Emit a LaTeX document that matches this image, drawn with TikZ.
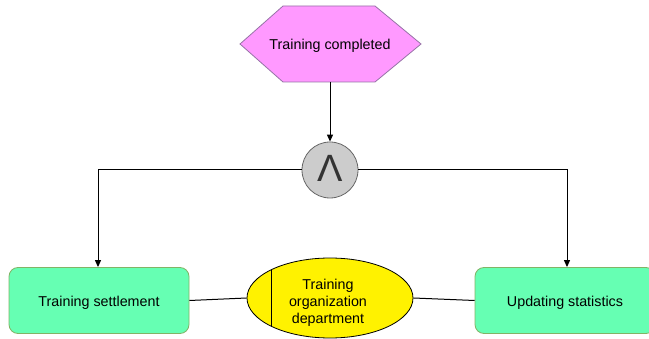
\documentclass[tikz,border=0pt]{standalone}
\usepackage{fontspec}
\setmainfont{Liberation Sans}
\usetikzlibrary{shapes.geometric,arrows.meta}
\definecolor{hexfill}{HTML}{FF99FF}
\definecolor{hexline}{HTML}{9673A6}
\definecolor{boxfill}{HTML}{66FFB3}
\definecolor{boxline}{HTML}{82B366}
\definecolor{gatefill}{HTML}{CCCCCC}
\definecolor{gateline}{HTML}{666666}
\definecolor{symcol}{HTML}{333333}
\begin{document}
\begin{tikzpicture}[x=1pt,y=-1pt,
  font=\fontsize{14.3}{17}\selectfont,
  conn/.style={line width=1pt,black},
  arr/.style={conn,-{Triangle[length=7pt,width=6pt]}},
  procbox/.style={draw=boxline,fill=boxfill,rounded corners=9pt,minimum width=180pt,minimum height=66pt,inner sep=0pt,line width=0.8pt}]
\useasboundingbox (0,0) rectangle (649,339);
\begin{scope}
\clip (0,0) rectangle (649,339);
% hexagon event
\path[draw=hexline,fill=hexfill,line width=0.8pt] (283,6) -- (375,6) -- (421,44) -- (375,82) -- (283,82) -- (240,44) -- cycle;
\node (ev) at (330,46) {Training completed};
\coordinate (evb) at (330,82);
% gate
\node[circle,draw=gateline,fill=gatefill,minimum size=56pt,inner sep=0pt,line width=0.8pt] (gate) at (330,170) {};
\node[text=symcol,font=\fontsize{38}{38}\selectfont,inner sep=0pt] (sym) at (330,168.5) {Λ};
% boxes
\node[procbox] (ts) at (99,300.5) {};
\node (tst) at (99,302.5) {Training settlement};
\node[procbox] (us) at (565,300.5) {};
\node (ust) at (565,302.5) {Updating statistics};
% ellipse
\node[ellipse,draw=black,fill=yellow,minimum width=166pt,minimum height=80pt,inner sep=0pt,line width=0.8pt] (org) at (330,298) {};
\begin{scope}
\clip (330,298) ellipse (83 and 40);
\draw[line width=1pt] (271,250) -- (271,345);
\end{scope}
\node[align=center] (orgt) at (328,303) {Training\\organization\\department};
% connectors
\draw[arr] (evb) -- (gate.north);
\draw[arr] (gate.west) -| (ts.north -| 98,0);
\draw[arr] (gate.east) -| (us.north -| 567,0);
\draw[conn] (ts.east) -- (org.west);
\draw[conn] (org.east) -- (us.west);
\end{scope}
\end{tikzpicture}
\end{document}
